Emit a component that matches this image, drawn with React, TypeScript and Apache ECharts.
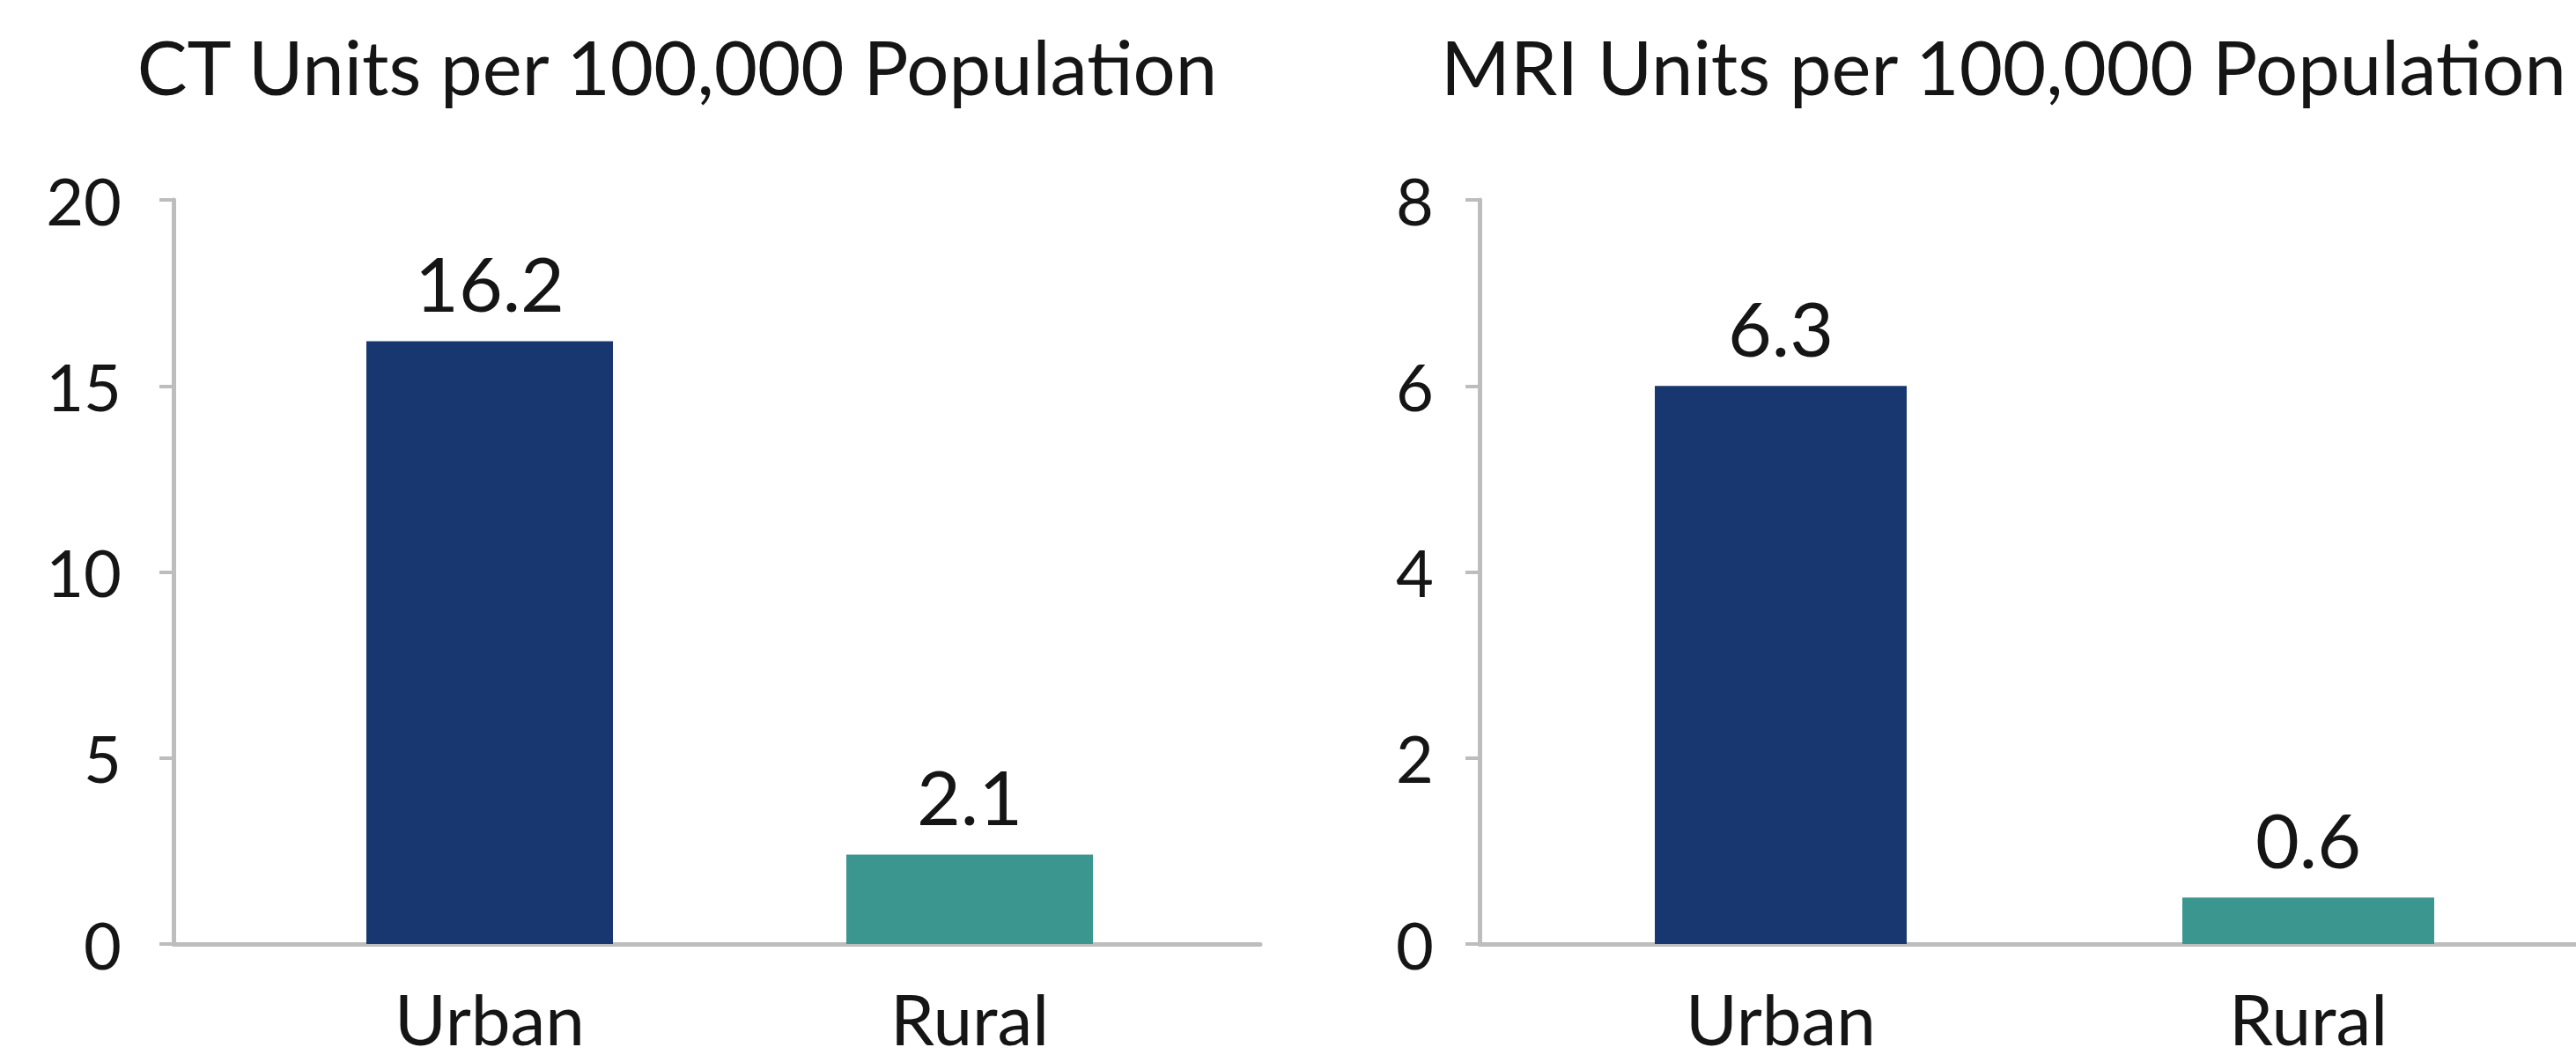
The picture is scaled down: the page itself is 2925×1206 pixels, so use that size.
import React, { useEffect, useRef } from "react";
import * as echarts from "echarts";

const categories = ["Urban", "Rural"];
const categoryPositions = [0, 1];
const ctValues = [16.2, 2.4];
const ctLabels = ["16.2", "2.1"];
const mriValues = [6.0, 0.5];
const mriLabels = ["6.3", "0.6"];
const barColors = ["#183670", "#3A968F"];
const titles = ["CT Units per 100,000 Population", "MRI Units per 100,000 Population"];

const FONT = "Lato";
const TEXT = "#151515";
const AXIS = "#BDBDBD";

export default function App() {
  const ref = useRef<HTMLDivElement>(null);
  useEffect(() => {
    if (!ref.current) return;
    const chart = echarts.init(ref.current, undefined, { renderer: "svg" });
    const xAxisBase = (gridIndex: number, min: number, max: number) => ({
      gridIndex,
      type: "value",
      min,
      max,
      axisLine: { show: true, onZero: false, lineStyle: { color: AXIS, width: 5 } },
      axisTick: { show: false },
      splitLine: { show: false },
      axisLabel: {
        customValues: categoryPositions,
        formatter: (v: number) => categories[Math.round(v)] ?? "",
        fontSize: 80,
        fontFamily: FONT,
        color: TEXT,
        margin: 44,
      },
    });
    const yAxisBase = (gridIndex: number, max: number, interval: number, margin: number) => ({
      gridIndex,
      type: "value",
      min: 0,
      max,
      interval,
      axisLine: { show: true, onZero: false, lineStyle: { color: AXIS, width: 5 } },
      axisTick: { show: true, length: 16, lineStyle: { color: AXIS, width: 4 } },
      splitLine: { show: false },
      axisLabel: { fontSize: 74, fontFamily: FONT, color: TEXT, margin },
    });
    const barSeries = (idx: number, values: number[], labels: string[], width: number) => ({
      type: "bar",
      xAxisIndex: idx,
      yAxisIndex: idx,
      barWidth: width,
      data: values.map((v, i) => ({
        value: [categoryPositions[i], v],
        itemStyle: { color: barColors[i] },
      })),
      label: {
        show: true,
        position: "top",
        distance: 24,
        formatter: (p: any) => labels[p.dataIndex],
        fontSize: 86,
        fontFamily: FONT,
        color: TEXT,
      },
    });
    const titleStyle = { fontSize: 85, fontWeight: "normal", fontFamily: FONT, color: TEXT };
    chart.setOption({
      animation: false,
      backgroundColor: "#ffffff",
      title: [
        { text: titles[0], left: 769, top: 32, textAlign: "center", padding: 0, textStyle: titleStyle },
        { text: titles[1], left: 2275, top: 32, textAlign: "center", padding: 0, textStyle: titleStyle },
      ],
      grid: [
        { left: 197, top: 227, width: 1234, height: 845 },
        { left: 1680, top: 227, width: 1245, height: 845 },
      ],
      xAxis: [xAxisBase(0, -0.6587, 1.6055), xAxisBase(1, -0.571, 1.5075)],
      yAxis: [yAxisBase(0, 20, 5, 59), yAxisBase(1, 8, 2, 52)],
      series: [barSeries(0, ctValues, ctLabels, 280), barSeries(1, mriValues, mriLabels, 286)],
    });
    return () => chart.dispose();
  }, []);
  return (
    <div
      ref={ref}
      style={{ position: "fixed", left: 0, top: 0, width: 2925, height: 1206, background: "#fff" }}
    />
  );
}
